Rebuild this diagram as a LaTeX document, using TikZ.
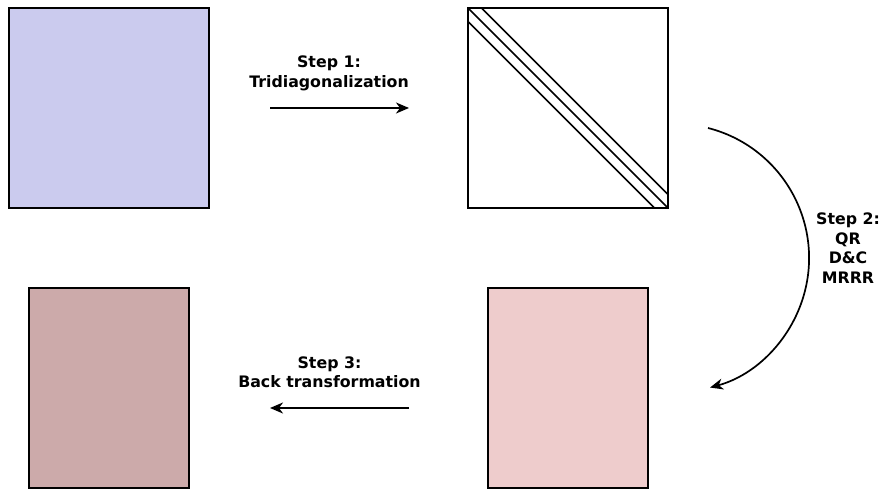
\documentclass[tikz,border=0pt]{standalone}
\usepackage{fontspec}
\setmainfont{DejaVu Sans}
\usetikzlibrary{arrows.meta}
\definecolor{matA}{RGB}{203,203,238}
\definecolor{matQ}{RGB}{238,204,204}
\definecolor{matZ}{RGB}{204,170,170}
\begin{document}
\begin{tikzpicture}[x=1pt,y=1pt,
  matrixbox/.style={draw=black,line width=1.7pt,inner sep=0pt,outer sep=0pt},
  sq/.style={matrixbox,minimum width=200pt,minimum height=200pt},
  tall/.style={matrixbox,minimum width=160pt,minimum height=200pt},
  steparrow/.style={line width=1.7pt,-{Stealth[length=13pt,width=11pt,inset=4pt]}},
  steplabel/.style={align=center,font=\fontsize{15.8}{19.5}\selectfont\bfseries,inner sep=0pt},
  band/.style={line width=1.7pt}]
\useasboundingbox (0,0) rectangle (882,489);
% matrices
\node[sq,fill=matA] (A) at (109,381) {};
\node[sq,fill=white] (B) at (568,381) {};
\node[tall,fill=matQ] (D) at (568,101) {};
\node[tall,fill=matZ] (C) at (109,101) {};
% tridiagonal band
\draw[band] (B.north west) -- (B.south east);
\draw[band] ([xshift=13.5pt]B.north west) -- ([yshift=13.5pt]B.south east);
\draw[band] ([yshift=-13.5pt]B.north west) -- ([xshift=-13.5pt]B.south east);
% step 1
\coordinate (s1a) at (270,381);
\coordinate (s1b) at (409,381);
\draw[steparrow] (s1a) -- (s1b);
\node[steplabel] (L1) at (329,415.5) {Step 1:\\Tridiagonalization};
% step 2
\coordinate (s2a) at (708,361);
\draw[steparrow] (s2a) arc[start angle=75.7,end angle=-74.8,radius=134.2];
\node[steplabel] (L2) at (848,241) {Step 2:\\QR\\D\&C\\MRRR};
% step 3
\coordinate (s3a) at (409,81);
\coordinate (s3b) at (270,81);
\draw[steparrow] (s3a) -- (s3b);
\node[steplabel] (L3) at (329.5,116.5) {Step 3:\\Back transformation};
\end{tikzpicture}
\end{document}
